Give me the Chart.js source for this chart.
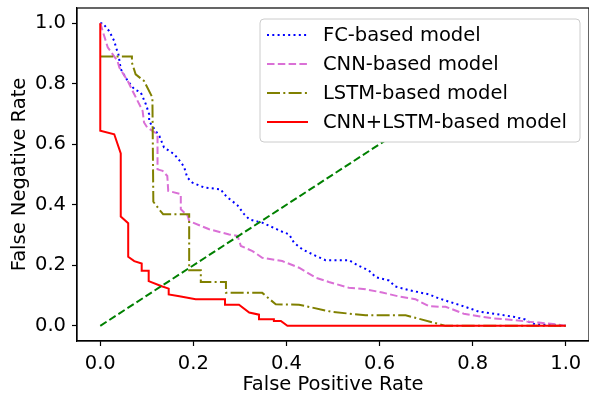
<!DOCTYPE html>
<html>
<head>
<meta charset="utf-8">
<script src="https://cdn.jsdelivr.net/npm/chart.js@4.4.1/dist/chart.umd.min.js"></script>
<style>
  html, body { margin: 0; padding: 0; background: #fff; }
  #wrap { width: 589px; height: 393px; }
</style>
</head>
<body>
<div id="wrap"><canvas id="detChart" width="589" height="393"></canvas></div>
<script>
// DET curves: false positive rate vs false negative rate
const seriesNames = ["FC-based model", "CNN-based model", "LSTM-based model", "CNN+LSTM-based model"];

const fcFpr = [0, 0.005, 0.019, 0.03, 0.034, 0.039, 0.044, 0.059, 0.073, 0.087, 0.098, 0.105, 0.105, 0.112, 0.119, 0.127, 0.137, 0.148, 0.159, 0.173, 0.18, 0.187, 0.198, 0.223, 0.259, 0.266, 0.277, 0.295, 0.309, 0.32, 0.341, 0.348, 0.391, 0.406, 0.416, 0.434, 0.463, 0.484, 0.534, 0.556, 0.577, 0.592, 0.62, 0.634, 0.663, 0.706, 0.727, 0.749, 0.774, 0.799, 0.813, 0.863, 0.888, 0.913, 0.924, 0.935, 1.0];
const fcFnr = [1.0, 1.0, 0.974, 0.941, 0.919, 0.897, 0.848, 0.809, 0.782, 0.771, 0.732, 0.699, 0.675, 0.66, 0.644, 0.627, 0.589, 0.578, 0.567, 0.541, 0.525, 0.49, 0.473, 0.457, 0.451, 0.435, 0.42, 0.398, 0.369, 0.352, 0.343, 0.341, 0.311, 0.302, 0.275, 0.253, 0.231, 0.217, 0.217, 0.198, 0.183, 0.161, 0.15, 0.13, 0.118, 0.104, 0.091, 0.08, 0.068, 0.055, 0.047, 0.036, 0.03, 0.021, 0.011, 0.005, 0.0];

const cnnFpr = [0, 0.016, 0.037, 0.041, 0.059, 0.073, 0.091, 0.094, 0.101, 0.123, 0.123, 0.134, 0.144, 0.146, 0.173, 0.173, 0.188, 0.191, 0.234, 0.277, 0.295, 0.302, 0.327, 0.348, 0.391, 0.427, 0.463, 0.491, 0.534, 0.57, 0.606, 0.642, 0.677, 0.706, 0.727, 0.742, 0.756, 0.781, 0.813, 0.842, 0.892, 0.917, 0.942, 0.978, 1.0];
const cnnFnr = [1.0, 0.92, 0.875, 0.853, 0.809, 0.765, 0.71, 0.672, 0.655, 0.633, 0.517, 0.512, 0.495, 0.446, 0.435, 0.385, 0.363, 0.346, 0.319, 0.302, 0.297, 0.264, 0.247, 0.225, 0.214, 0.192, 0.159, 0.145, 0.126, 0.121, 0.11, 0.097, 0.088, 0.065, 0.063, 0.063, 0.055, 0.04, 0.032, 0.025, 0.019, 0.014, 0.011, 0.005, 0.0];

const lstmFpr = [0, 0.068, 0.068, 0.076, 0.094, 0.112, 0.114, 0.13, 0.135, 0.191, 0.191, 0.216, 0.216, 0.27, 0.27, 0.348, 0.377, 0.427, 0.498, 0.57, 0.656, 0.742, 1.0];
const lstmFnr = [0.89, 0.89, 0.87, 0.831, 0.809, 0.754, 0.41, 0.378, 0.369, 0.369, 0.184, 0.184, 0.145, 0.145, 0.109, 0.109, 0.071, 0.07, 0.046, 0.035, 0.035, 0.0, 0.0];

const comboFpr = [0, 0, 0.03, 0.044, 0.044, 0.06, 0.06, 0.073, 0.089, 0.089, 0.104, 0.104, 0.132, 0.147, 0.147, 0.17, 0.205, 0.268, 0.268, 0.298, 0.32, 0.341, 0.341, 0.373, 0.373, 0.388, 0.402, 1.0];
const comboFnr = [1.0, 0.645, 0.633, 0.57, 0.361, 0.339, 0.228, 0.214, 0.206, 0.182, 0.182, 0.148, 0.131, 0.123, 0.104, 0.098, 0.088, 0.088, 0.07, 0.07, 0.044, 0.037, 0.022, 0.022, 0.016, 0.016, 0.0, 0.0];

const chanceFpr = [0, 1];
const chanceFnr = [0, 1];

const axisTicks = [0, 0.2, 0.4, 0.6, 0.8, 1.0];

function toPoints(xs, ys) {
  return xs.map((x, i) => ({ x: x, y: ys[i] }));
}

const FONT = "'DejaVu Sans', sans-serif";
const FONT_SIZE = 19.5;

const lineStyles = [
  { color: "#0000ff", dash: [2, 3.3] },
  { color: "#da70d6", dash: [7.5, 3.3] },
  { color: "#808000", dash: [13, 3.3, 2, 3.3] },
  { color: "#ff0000", dash: [] }
];

// full box around the plot area, like a framed axes
const framePlugin = {
  id: "frame",
  afterDatasetsDraw(chart) {
    const a = chart.chartArea;
    const ctx = chart.ctx;
    ctx.save();
    ctx.strokeStyle = "#000";
    ctx.lineWidth = 1.2;
    ctx.strokeRect(a.left, a.top, a.right - a.left, a.bottom - a.top);
    ctx.restore();
  }
};

// legend box drawn inside the plot, top right
const insideLegend = {
  id: "insideLegend",
  afterDraw(chart) {
    const ctx = chart.ctx;
    const x0 = 260, y0 = 19, w = 320, h = 123, r = 4;
    ctx.save();
    ctx.beginPath();
    ctx.roundRect(x0, y0, w, h, r);
    ctx.fillStyle = "#ffffff";
    ctx.fill();
    ctx.strokeStyle = "#cccccc";
    ctx.lineWidth = 1;
    ctx.stroke();
    ctx.font = FONT_SIZE + "px " + FONT;
    ctx.textBaseline = "middle";
    seriesNames.forEach((name, i) => {
      const cy = y0 + 16 + i * 29;
      const st = lineStyles[i];
      ctx.beginPath();
      ctx.setLineDash(st.dash);
      ctx.strokeStyle = st.color;
      ctx.lineWidth = 2;
      ctx.moveTo(267, cy);
      ctx.lineTo(308, cy);
      ctx.stroke();
      ctx.setLineDash([]);
      ctx.fillStyle = "#000";
      ctx.fillText(name, 323, cy + 1);
    });
    ctx.restore();
  }
};

const datasets = [
  { xs: fcFpr, ys: fcFnr },
  { xs: cnnFpr, ys: cnnFnr },
  { xs: lstmFpr, ys: lstmFnr },
  { xs: comboFpr, ys: comboFnr }
].map((s, i) => ({
  label: seriesNames[i],
  data: toPoints(s.xs, s.ys),
  borderColor: lineStyles[i].color,
  borderDash: lineStyles[i].dash,
  borderWidth: 2,
  pointRadius: 0,
  showLine: true,
  fill: false,
  tension: 0,
  order: 5 - i
}));

datasets.push({
  label: "chance",
  data: toPoints(chanceFpr, chanceFnr),
  borderColor: "#008000",
  borderDash: [7.5, 3.3],
  borderWidth: 2,
  pointRadius: 0,
  showLine: true,
  fill: false,
  order: 0
});

function fixedTicks(scale) {
  scale.ticks = axisTicks.map(v => ({ value: v }));
}

const ctx = document.getElementById("detChart").getContext("2d");
new Chart(ctx, {
  type: "scatter",
  data: { datasets: datasets },
  options: {
    responsive: false,
    animation: false,
    devicePixelRatio: 1,
    layout: { padding: { top: 8, right: 0, left: 0, bottom: 0 } },
    plugins: {
      legend: { display: false },
      tooltip: { enabled: false }
    },
    scales: {
      x: {
        type: "linear",
        min: -0.05,
        max: 1.05,
        afterBuildTicks: fixedTicks,
        afterFit(scale) {
          scale.height = 52;
          scale.paddingLeft = 0;
          scale.paddingRight = 0;
        },
        grid: { drawOnChartArea: false, drawTicks: true, tickLength: 5, color: "#000", tickWidth: 1.2 },
        border: { display: true, color: "#000", width: 1.2 },
        ticks: {
          color: "#000",
          padding: 6,
          maxRotation: 0,
          font: { family: FONT, size: FONT_SIZE },
          callback: v => v.toFixed(1)
        },
        title: {
          display: true,
          text: "False Positive Rate",
          color: "#000",
          font: { family: FONT, size: FONT_SIZE, lineHeight: 1 },
          padding: { top: 0, bottom: -2 }
        }
      },
      y: {
        type: "linear",
        min: -0.05,
        max: 1.05,
        afterBuildTicks: fixedTicks,
        afterFit(scale) {
          scale.width = 77;
          scale.paddingTop = 0;
          scale.paddingBottom = 0;
        },
        grid: { drawOnChartArea: false, drawTicks: true, tickLength: 5, color: "#000", tickWidth: 1.2 },
        border: { display: true, color: "#000", width: 1.2 },
        ticks: {
          color: "#000",
          padding: 6,
          font: { family: FONT, size: FONT_SIZE },
          callback: v => v.toFixed(1)
        },
        title: {
          display: true,
          text: "False Negative Rate",
          color: "#000",
          font: { family: FONT, size: FONT_SIZE },
          padding: { top: 8, bottom: 0 }
        }
      }
    }
  },
  plugins: [framePlugin, insideLegend]
});
</script>
</body>
</html>
